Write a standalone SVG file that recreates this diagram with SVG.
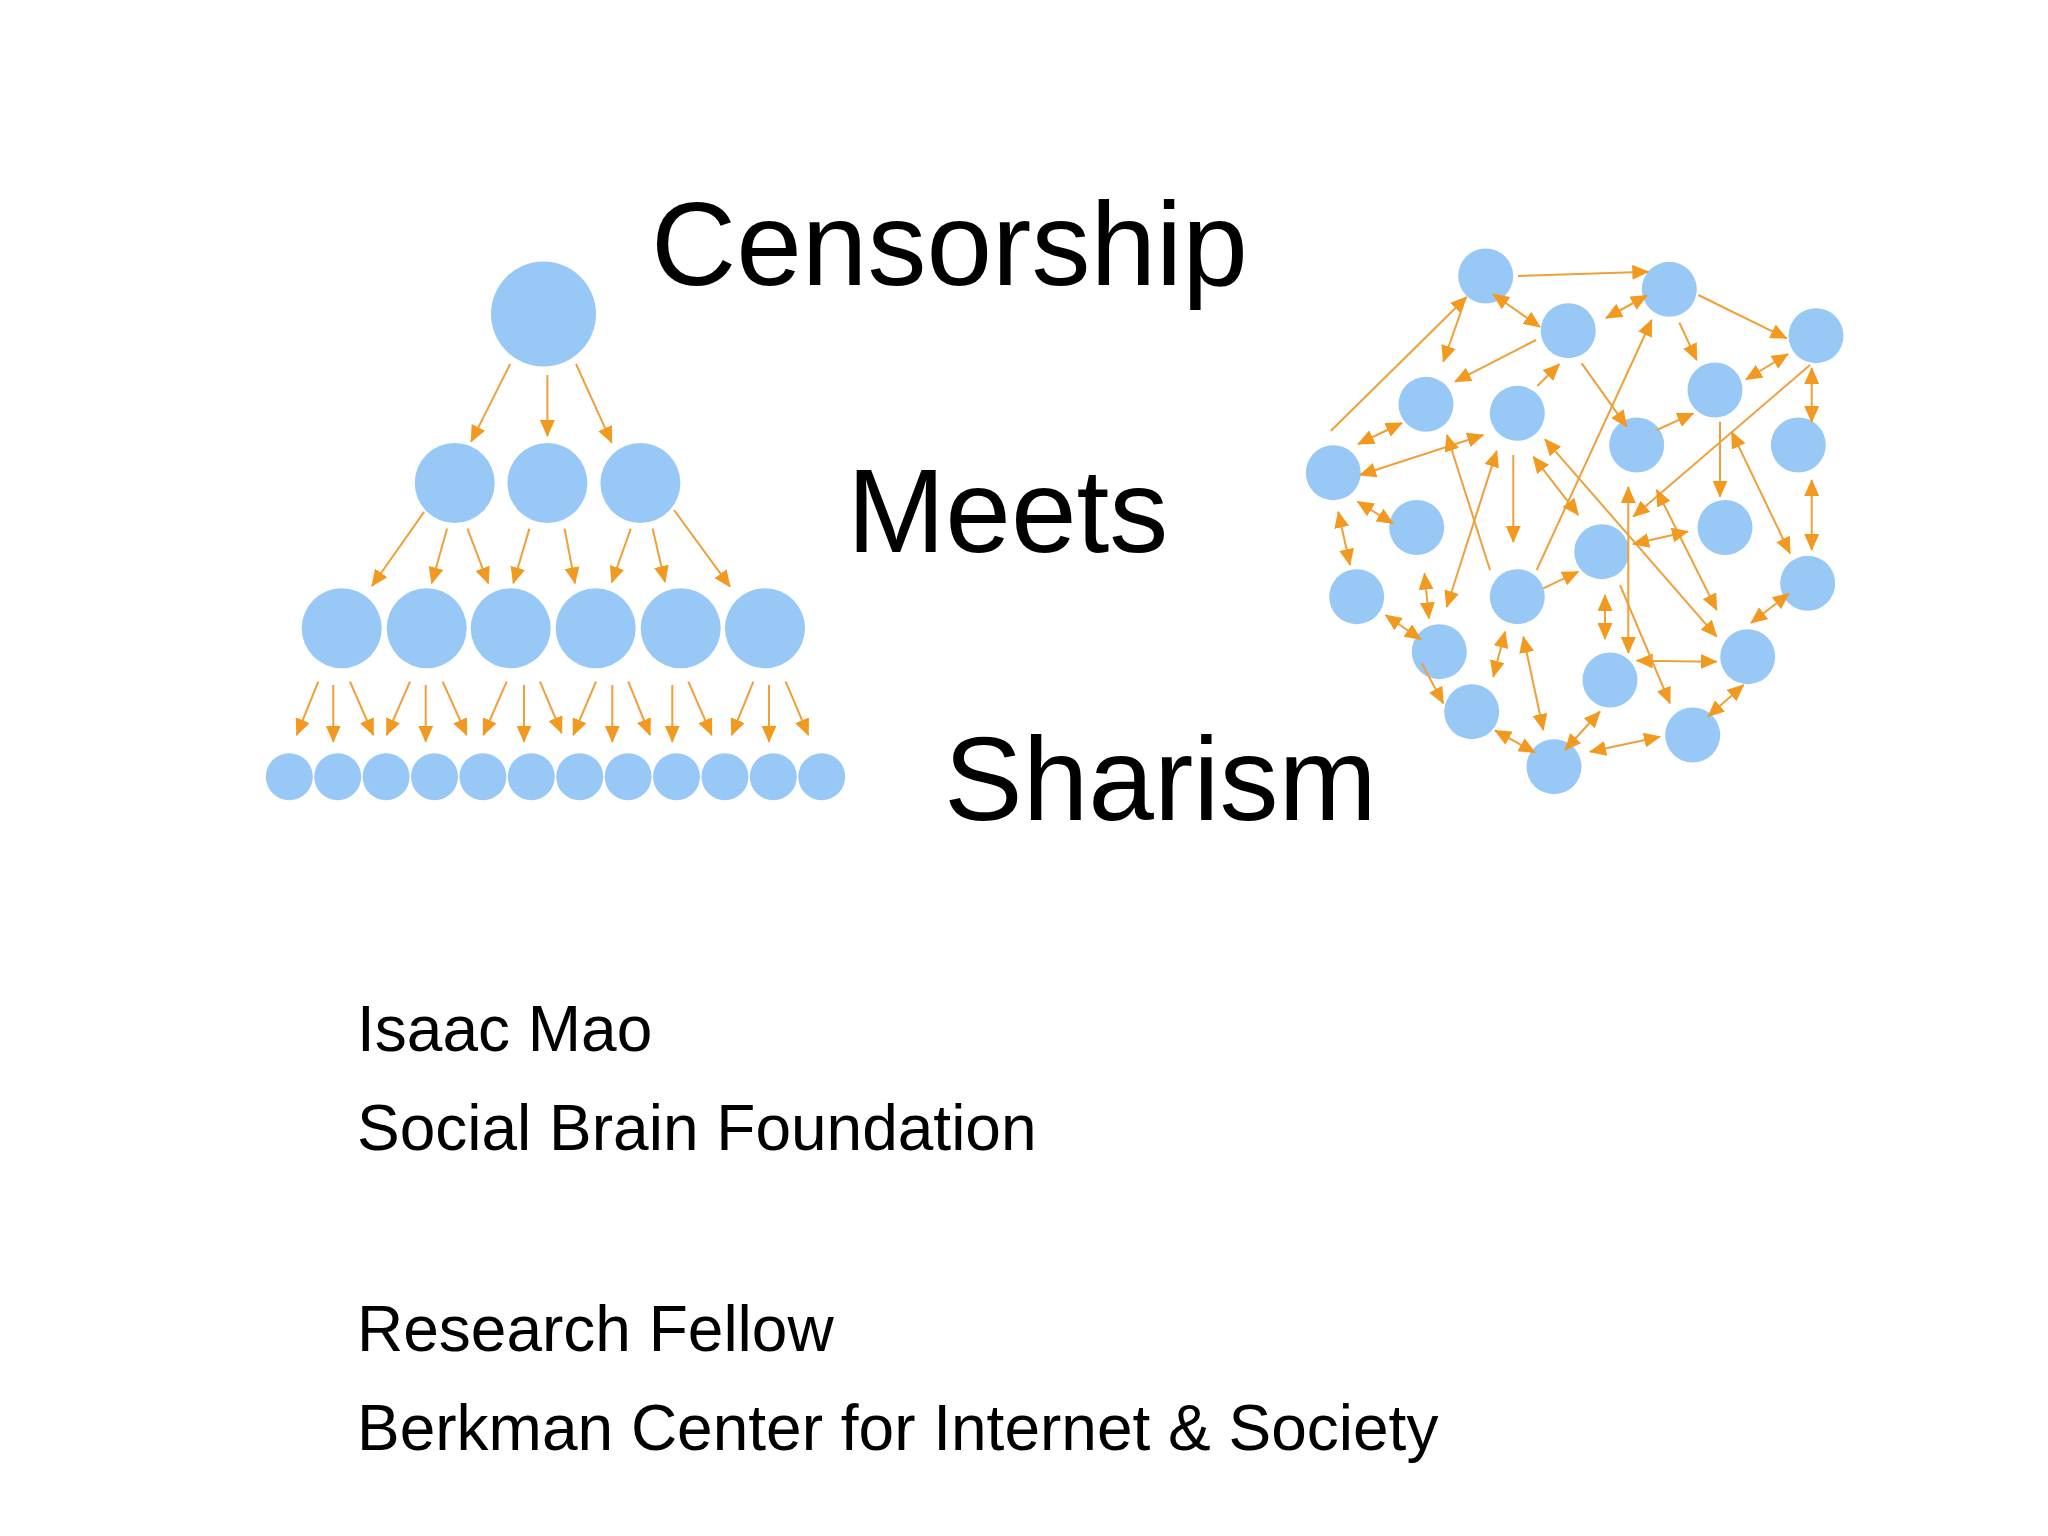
<svg xmlns="http://www.w3.org/2000/svg" width="2048" height="1536" viewBox="0 0 2048 1536">
<style>
.n{fill:#98C8F6}
.e{stroke:#EFA03A;stroke-width:2;fill:none;marker-end:url(#ah)}
.d{marker-start:url(#ah)}
.t{font-family:"Liberation Sans",Arial,sans-serif;fill:#000}
.big{font-size:118px}
.small{font-size:64px}
</style>
<defs>
<marker id="ah" viewBox="0 0 17 15" refX="16" refY="7.5" markerWidth="17" markerHeight="15" markerUnits="userSpaceOnUse" orient="auto-start-reverse">
<path d="M0,0 L17,7.5 L0,15 z" fill="#F29A1F"/>
</marker>
</defs>
<rect width="2048" height="1536" fill="#fff"/>

<!-- Hierarchy nodes -->
<g id="h-top"><circle class="n" cx="543.5" cy="314" r="52.5"/></g>
<g id="h2-1"><circle class="n" cx="454.7" cy="483" r="40"/></g>
<g id="h2-2"><circle class="n" cx="547.4" cy="483" r="40"/></g>
<g id="h2-3"><circle class="n" cx="640.4" cy="483" r="40"/></g>
<g id="h3-1"><circle class="n" cx="341.7" cy="628.3" r="40"/></g>
<g id="h3-2"><circle class="n" cx="426.7" cy="628.3" r="40"/></g>
<g id="h3-3"><circle class="n" cx="510.7" cy="628.3" r="40"/></g>
<g id="h3-4"><circle class="n" cx="595.7" cy="628.3" r="40"/></g>
<g id="h3-5"><circle class="n" cx="680.7" cy="628.3" r="40"/></g>
<g id="h3-6"><circle class="n" cx="765" cy="628.3" r="40"/></g>
<g id="h4-1"><circle class="n" cx="289.3" cy="776.7" r="23.5"/></g>
<g id="h4-2"><circle class="n" cx="337.7" cy="776.7" r="23.5"/></g>
<g id="h4-3"><circle class="n" cx="386.1" cy="776.7" r="23.5"/></g>
<g id="h4-4"><circle class="n" cx="434.5" cy="776.7" r="23.5"/></g>
<g id="h4-5"><circle class="n" cx="482.9" cy="776.7" r="23.5"/></g>
<g id="h4-6"><circle class="n" cx="531.3" cy="776.7" r="23.5"/></g>
<g id="h4-7"><circle class="n" cx="579.7" cy="776.7" r="23.5"/></g>
<g id="h4-8"><circle class="n" cx="628.1" cy="776.7" r="23.5"/></g>
<g id="h4-9"><circle class="n" cx="676.5" cy="776.7" r="23.5"/></g>
<g id="h4-10"><circle class="n" cx="724.9" cy="776.7" r="23.5"/></g>
<g id="h4-11"><circle class="n" cx="773.3" cy="776.7" r="23.5"/></g>
<g id="h4-12"><circle class="n" cx="821.7" cy="776.7" r="23.5"/></g>

<!-- Network nodes -->
<g id="nA"><circle class="n" cx="1485.7" cy="276" r="27.5"/></g>
<g id="nB"><circle class="n" cx="1669.3" cy="289.3" r="27.5"/></g>
<g id="nC"><circle class="n" cx="1568.3" cy="330.7" r="27.5"/></g>
<g id="nD"><circle class="n" cx="1816" cy="335.7" r="27.5"/></g>
<g id="nE"><circle class="n" cx="1426" cy="404.3" r="27.5"/></g>
<g id="nF"><circle class="n" cx="1517.3" cy="413.3" r="27.5"/></g>
<g id="nG"><circle class="n" cx="1715" cy="390" r="27.5"/></g>
<g id="nH"><circle class="n" cx="1636.7" cy="445" r="27.5"/></g>
<g id="nI"><circle class="n" cx="1798.3" cy="445" r="27.5"/></g>
<g id="nJ"><circle class="n" cx="1333.3" cy="472.7" r="27.5"/></g>
<g id="nK"><circle class="n" cx="1416.7" cy="527.5" r="27.5"/></g>
<g id="nL"><circle class="n" cx="1725" cy="527.5" r="27.5"/></g>
<g id="nM"><circle class="n" cx="1601.7" cy="551.7" r="27.5"/></g>
<g id="nN"><circle class="n" cx="1807.7" cy="583.3" r="27.5"/></g>
<g id="nO"><circle class="n" cx="1356.7" cy="596.7" r="27.5"/></g>
<g id="nP"><circle class="n" cx="1517.3" cy="596.7" r="27.5"/></g>
<g id="nQ"><circle class="n" cx="1439.3" cy="651.7" r="27.5"/></g>
<g id="nR"><circle class="n" cx="1747.7" cy="656.7" r="27.5"/></g>
<g id="nS"><circle class="n" cx="1610" cy="680" r="27.5"/></g>
<g id="nT"><circle class="n" cx="1471.7" cy="711.7" r="27.5"/></g>
<g id="nU"><circle class="n" cx="1692.7" cy="735" r="27.5"/></g>
<g id="nV"><circle class="n" cx="1554" cy="766.7" r="27.5"/></g>

<g id="connectors">
<!-- hierarchy -->
<line class="e" x1="510.2" y1="364" x2="471.2" y2="441.6"/>
<line class="e" x1="547.4" y1="375" x2="547.4" y2="436"/>
<line class="e" x1="576" y1="364" x2="611.7" y2="442.7"/>
<line class="e" x1="424.1" y1="511.9" x2="372" y2="586"/>
<line class="e" x1="447.1" y1="528.6" x2="431.7" y2="583.3"/>
<line class="e" x1="467.4" y1="528.6" x2="488.3" y2="583.3"/>
<line class="e" x1="529.4" y1="528.6" x2="513.3" y2="583.3"/>
<line class="e" x1="564.6" y1="528.6" x2="575" y2="583.3"/>
<line class="e" x1="630.8" y1="528.6" x2="611.7" y2="582.5"/>
<line class="e" x1="652.6" y1="528.6" x2="665" y2="582"/>
<line class="e" x1="674" y1="510" x2="730" y2="586.7"/>
<line class="e" x1="318.3" y1="681.7" x2="296.7" y2="735"/>
<line class="e" x1="333.3" y1="685" x2="333.3" y2="741.7"/>
<line class="e" x1="350" y1="681.7" x2="373.3" y2="735"/>
<line class="e" x1="410" y1="681.7" x2="386.7" y2="735"/>
<line class="e" x1="425.7" y1="685" x2="425.7" y2="741.7"/>
<line class="e" x1="442.7" y1="681.7" x2="466.7" y2="735"/>
<line class="e" x1="506.7" y1="681.7" x2="483.3" y2="735"/>
<line class="e" x1="524" y1="685" x2="524" y2="741.7"/>
<line class="e" x1="540" y1="681.7" x2="561.7" y2="733"/>
<line class="e" x1="596" y1="681.7" x2="573.3" y2="735"/>
<line class="e" x1="612.3" y1="685" x2="612.3" y2="741.7"/>
<line class="e" x1="628.3" y1="681.7" x2="650" y2="735"/>
<line class="e" x1="672.3" y1="685" x2="672.3" y2="741.7"/>
<line class="e" x1="688.3" y1="681.7" x2="711.7" y2="735"/>
<line class="e" x1="753.3" y1="681.7" x2="731.7" y2="735"/>
<line class="e" x1="769" y1="685" x2="769" y2="741.7"/>
<line class="e" x1="785.7" y1="681.7" x2="808.3" y2="735"/>

<!-- network -->
<line class="e" x1="1518" y1="276" x2="1648.3" y2="271.7"/>
<line class="e d" x1="1493" y1="294" x2="1540" y2="327"/>
<line class="e" x1="1330.7" y1="431" x2="1466.7" y2="297"/>
<line class="e" x1="1463.3" y1="305" x2="1443.3" y2="361.7"/>
<line class="e" x1="1536" y1="340" x2="1455" y2="381.7"/>
<line class="e" x1="1537.3" y1="386" x2="1559.3" y2="364.3"/>
<line class="e d" x1="1647" y1="295.5" x2="1606" y2="318"/>
<line class="e" x1="1698.3" y1="295" x2="1786.7" y2="338.3"/>
<line class="e" x1="1679.3" y1="322.7" x2="1696.7" y2="360"/>
<line class="e d" x1="1746" y1="379.5" x2="1788" y2="354"/>
<line class="e d" x1="1811.7" y1="368" x2="1811.7" y2="422"/>
<line class="e" x1="1810" y1="365" x2="1633.3" y2="516.7"/>
<line class="e" x1="1581.7" y1="363.3" x2="1626.7" y2="426.7"/>
<line class="e" x1="1656.7" y1="430" x2="1693.3" y2="413.3"/>
<line class="e" x1="1536.7" y1="570" x2="1651.7" y2="320"/>
<line class="e d" x1="1402" y1="423" x2="1358" y2="444"/>
<line class="e d" x1="1360" y1="475" x2="1483.3" y2="435"/>
<line class="e" x1="1490" y1="570" x2="1447" y2="435"/>
<line class="e d" x1="1496.7" y1="451" x2="1446.7" y2="607"/>
<line class="e" x1="1513.3" y1="455" x2="1513.3" y2="542"/>
<line class="e d" x1="1533.3" y1="456.7" x2="1578.3" y2="515"/>
<line class="e d" x1="1545" y1="439.3" x2="1716.7" y2="636.7"/>
<line class="e d" x1="1656.7" y1="490" x2="1716.7" y2="610"/>
<line class="e d" x1="1731.7" y1="432" x2="1790" y2="553.3"/>
<line class="e" x1="1720" y1="421.7" x2="1720" y2="496.7"/>
<line class="e d" x1="1811.7" y1="480" x2="1811.7" y2="550"/>
<line class="e d" x1="1628.3" y1="487" x2="1628.3" y2="653"/>
<line class="e d" x1="1636.7" y1="660.7" x2="1716.7" y2="661.7"/>
<line class="e d" x1="1633" y1="544" x2="1688" y2="531.5"/>
<line class="e d" x1="1605" y1="595" x2="1605" y2="639"/>
<line class="e" x1="1620" y1="585" x2="1670" y2="703.3"/>
<line class="e d" x1="1751" y1="623" x2="1789" y2="593.5"/>
<line class="e d" x1="1708" y1="716.5" x2="1743.5" y2="685"/>
<line class="e d" x1="1565" y1="750" x2="1600" y2="711.5"/>
<line class="e d" x1="1590" y1="751.7" x2="1660" y2="736.7"/>
<line class="e d" x1="1338.3" y1="511.7" x2="1350" y2="565"/>
<line class="e d" x1="1357.5" y1="501.5" x2="1393" y2="523.5"/>
<line class="e d" x1="1424.5" y1="573.5" x2="1429" y2="618.5"/>
<line class="e" x1="1543.3" y1="588.3" x2="1578.3" y2="571.7"/>
<line class="e d" x1="1385.5" y1="615" x2="1421" y2="639.5"/>
<line class="e" x1="1421.7" y1="663.3" x2="1443.3" y2="703.3"/>
<line class="e d" x1="1505" y1="631.7" x2="1493.3" y2="676.7"/>
<line class="e d" x1="1523.3" y1="636.7" x2="1543.3" y2="730"/>
<line class="e d" x1="1495" y1="730.5" x2="1535" y2="752.5"/>
</g>

<g id="titles">
<text class="t big" x="651" y="285">Censorship</text>
<text class="t big" x="847" y="552">Meets</text>
<text class="t big" x="944" y="820">Sharism</text>
</g>
<g id="credits">
<text class="t small" x="357" y="1051">Isaac Mao</text>
<text class="t small" x="357" y="1150">Social Brain Foundation</text>
<text class="t small" x="357" y="1351">Research Fellow</text>
<text class="t small" x="357" y="1450">Berkman Center for Internet &amp; Society</text>
</g>
</svg>
